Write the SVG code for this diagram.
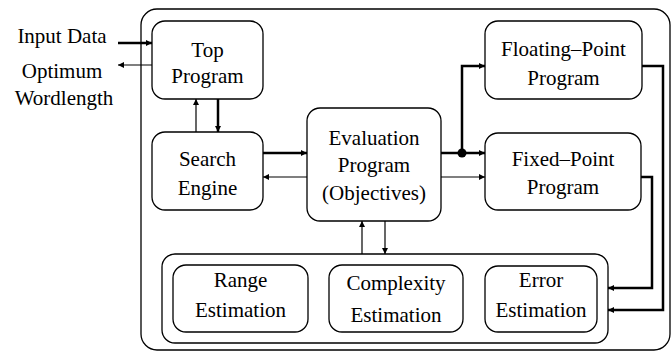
<svg xmlns="http://www.w3.org/2000/svg" width="672" height="352" viewBox="0 0 672 352">
<defs>
<marker id="ah" viewBox="0 0 10 10" refX="10" refY="5" markerWidth="9" markerHeight="6" markerUnits="userSpaceOnUse" orient="auto"><path d="M0,0 L10,5 L0,10 Z" fill="#000"/></marker>
</defs>
<rect width="672" height="352" fill="#fff"/>
<rect id="frame" x="141" y="9" width="529" height="341" rx="16" fill="#fff" stroke="#000" stroke-width="1.3"/>
<g id="labels">
<text font-family="'Liberation Serif', 'Times New Roman', 'Noto Sans CJK SC', serif" font-size="21" text-anchor="middle" x="62" y="43">Input Data</text>
<text font-family="'Liberation Serif', 'Times New Roman', 'Noto Sans CJK SC', serif" font-size="21" text-anchor="middle" x="62" y="78">Optimum</text>
<text font-family="'Liberation Serif', 'Times New Roman', 'Noto Sans CJK SC', serif" font-size="21" text-anchor="middle" x="64" y="105">Wordlength</text>
</g>
<g id="top"><rect x="152" y="21" width="111" height="78" rx="13" fill="#fff" stroke="#000" stroke-width="1.3"/><text font-family="'Liberation Serif', 'Times New Roman', 'Noto Sans CJK SC', serif" font-size="21" text-anchor="middle" x="207.5" y="57">Top</text><text font-family="'Liberation Serif', 'Times New Roman', 'Noto Sans CJK SC', serif" font-size="21" text-anchor="middle" x="207.5" y="83">Program</text></g>
<g id="search"><rect x="152" y="132" width="111" height="78" rx="13" fill="#fff" stroke="#000" stroke-width="1.3"/><text font-family="'Liberation Serif', 'Times New Roman', 'Noto Sans CJK SC', serif" font-size="21" text-anchor="middle" x="207.5" y="166">Search</text><text font-family="'Liberation Serif', 'Times New Roman', 'Noto Sans CJK SC', serif" font-size="21" text-anchor="middle" x="207.5" y="195">Engine</text></g>
<g id="eval"><rect x="307" y="108" width="134" height="113" rx="13" fill="#fff" stroke="#000" stroke-width="1.3"/><text font-family="'Liberation Serif', 'Times New Roman', 'Noto Sans CJK SC', serif" font-size="21" text-anchor="middle" x="374" y="145">Evaluation</text><text font-family="'Liberation Serif', 'Times New Roman', 'Noto Sans CJK SC', serif" font-size="21" text-anchor="middle" x="374" y="172">Program</text><text font-family="'Liberation Serif', 'Times New Roman', 'Noto Sans CJK SC', serif" font-size="21" text-anchor="middle" x="374" y="200">(Objectives)</text></g>
<g id="floating"><rect x="485" y="21" width="157" height="78" rx="13" fill="#fff" stroke="#000" stroke-width="1.3"/><text font-family="'Liberation Serif', 'Times New Roman', 'Noto Sans CJK SC', serif" font-size="21" text-anchor="middle" x="563.5" y="56">Floating&#8211;Point</text><text font-family="'Liberation Serif', 'Times New Roman', 'Noto Sans CJK SC', serif" font-size="21" text-anchor="middle" x="563.5" y="85">Program</text></g>
<g id="fixed"><rect x="485" y="133" width="156" height="77" rx="13" fill="#fff" stroke="#000" stroke-width="1.3"/><text font-family="'Liberation Serif', 'Times New Roman', 'Noto Sans CJK SC', serif" font-size="21" text-anchor="middle" x="563" y="166">Fixed&#8211;Point</text><text font-family="'Liberation Serif', 'Times New Roman', 'Noto Sans CJK SC', serif" font-size="21" text-anchor="middle" x="563" y="194">Program</text></g>
<g id="estimation">
<rect x="162" y="254" width="446" height="89" rx="13" fill="#fff" stroke="#000" stroke-width="1.3"/>
<g id="range"><rect x="173" y="265" width="135" height="67" rx="13" fill="#fff" stroke="#000" stroke-width="1.3"/><text font-family="'Liberation Serif', 'Times New Roman', 'Noto Sans CJK SC', serif" font-size="21" text-anchor="middle" x="240.5" y="287">Range</text><text font-family="'Liberation Serif', 'Times New Roman', 'Noto Sans CJK SC', serif" font-size="21" text-anchor="middle" x="240.5" y="317">Estimation</text></g>
<g id="complexity"><rect x="329" y="265" width="134" height="67" rx="13" fill="#fff" stroke="#000" stroke-width="1.3"/><text font-family="'Liberation Serif', 'Times New Roman', 'Noto Sans CJK SC', serif" font-size="21" text-anchor="middle" x="396" y="290">Complexity</text><text font-family="'Liberation Serif', 'Times New Roman', 'Noto Sans CJK SC', serif" font-size="21" text-anchor="middle" x="396" y="322">Estimation</text></g>
<g id="error"><rect x="485" y="266" width="112" height="66" rx="13" fill="#fff" stroke="#000" stroke-width="1.3"/><text font-family="'Liberation Serif', 'Times New Roman', 'Noto Sans CJK SC', serif" font-size="21" text-anchor="middle" x="541" y="287">Error</text><text font-family="'Liberation Serif', 'Times New Roman', 'Noto Sans CJK SC', serif" font-size="21" text-anchor="middle" x="541" y="317">Estimation</text></g>
</g>
<g id="connectors" fill="none" stroke="#000">
<path stroke-width="2.5" d="M118,43 H152" marker-end="url(#ah)"/>
<path stroke-width="1.2" d="M152,65 H118" marker-end="url(#ah)"/>
<path stroke-width="1.2" d="M196,132 V99" marker-end="url(#ah)"/>
<path stroke-width="2.5" d="M218,99 V132" marker-end="url(#ah)"/>
<path stroke-width="2.5" d="M263,153 H307" marker-end="url(#ah)"/>
<path stroke-width="1.2" d="M307,177 H263" marker-end="url(#ah)"/>
<path stroke-width="2.5" d="M441,153 H485" marker-end="url(#ah)"/>
<path stroke-width="2.5" d="M462,153 V66 H485" marker-end="url(#ah)"/>
<circle cx="462" cy="153" r="4.5" fill="#000" stroke="none"/>
<path stroke-width="1.2" d="M441,177 H485" marker-end="url(#ah)"/>
<path stroke-width="1.2" d="M362,254 V221" marker-end="url(#ah)"/>
<path stroke-width="1.2" d="M385,221 V254" marker-end="url(#ah)"/>
<path stroke-width="2.5" d="M642,66 H663 V310 H608" marker-end="url(#ah)"/>
<path stroke-width="2.5" d="M641,177 H652 V288 H608" marker-end="url(#ah)"/>
</g>
</svg>
